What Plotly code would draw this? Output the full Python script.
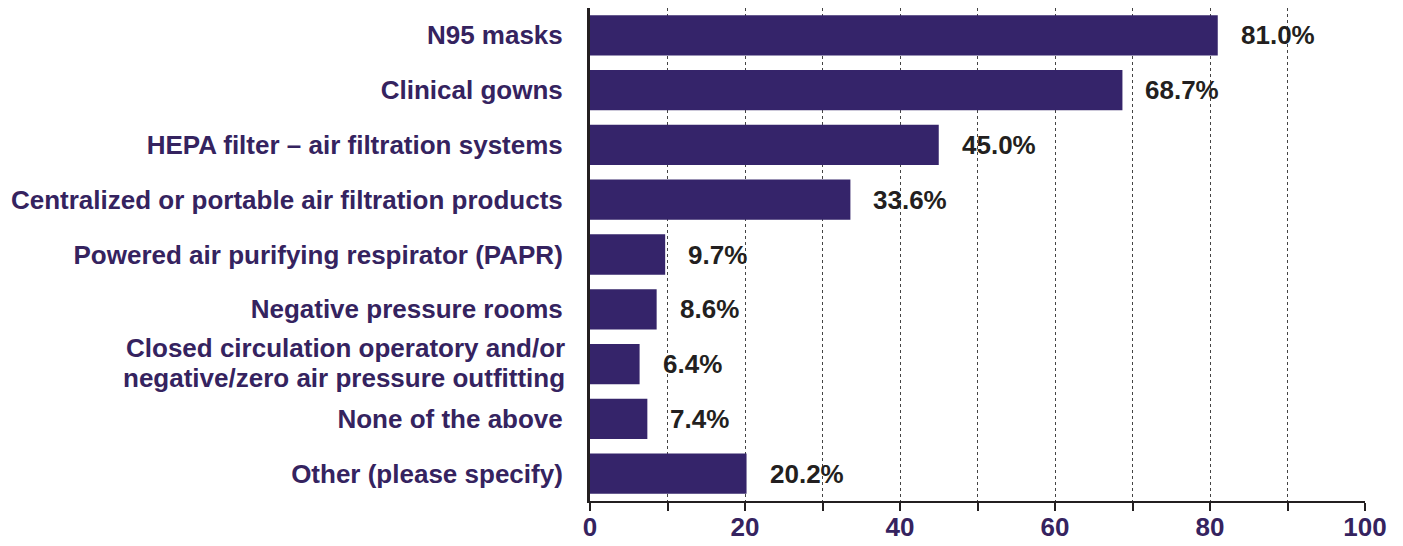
import plotly.graph_objects as go

categories = [
    "N95 masks",
    "Clinical gowns",
    "HEPA filter – air filtration systems",
    "Centralized or portable air filtration products",
    "Powered air purifying respirator (PAPR)",
    "Negative pressure rooms",
    "Closed circulation operatory and/or<br>negative/zero air pressure outfitting",
    "None of the above",
    "Other (please specify)",
]
values = [81.0, 68.7, 45.0, 33.6, 9.7, 8.6, 6.4, 7.4, 20.2]
value_labels = ["81.0%", "68.7%", "45.0%", "33.6%", "9.7%", "8.6%", "6.4%", "7.4%", "20.2%"]
x_tickvals = [0, 20, 40, 60, 80, 100]

PURPLE = "#35246a"
TEXT_PURPLE = "#35235f"
FONT = "Liberation Sans, Arial, Helvetica, sans-serif"

fig = go.Figure()
fig.add_trace(go.Bar(
    y=categories,
    x=values,
    orientation="h",
    marker=dict(color=PURPLE, line=dict(width=0)),
    hoverinfo="skip",
))

for c, v, t in zip(categories, values, value_labels):
    fig.add_annotation(
        x=v, y=c, text="<b>" + t + "</b>", showarrow=False,
        xanchor="left", xshift=21,
        font=dict(family=FONT, size=26, color="#231f20"),
    )

# category labels: single-line ones as tick labels, multi-line ones as
# tighter-spaced annotations
ticktext = []
for c in categories:
    if "<br>" in c:
        ticktext.append("")
        lines = c.split("<br>")
        n = len(lines)
        for i, line in enumerate(lines):
            fig.add_annotation(
                xref="paper", x=0, y=c, text="<b>" + line + "</b>",
                showarrow=False, xanchor="right", xshift=-24,
                yshift=(n - 1) / 2 * 30 - i * 30 + 1,
                borderpad=0,
                font=dict(family=FONT, size=26, color=TEXT_PURPLE),
            )
    else:
        ticktext.append("<b>" + c + "</b>")

fig.update_layout(
    width=1403, height=546,
    margin=dict(l=590, r=38, t=8, b=45),
    paper_bgcolor="white", plot_bgcolor="white",
    bargap=0.265,
    showlegend=False,
    font=dict(family=FONT),
)
fig.update_xaxes(
    range=[0, 100],
    automargin=False,
    tickvals=x_tickvals,
    ticktext=["<b>%d</b>" % v for v in x_tickvals],
    tickfont=dict(family=FONT, size=26, color=TEXT_PURPLE),
    ticks="outside", ticklen=8, tickwidth=2, tickcolor="#231f20",
    ticklabelstandoff=-6,
    showline=True, linecolor="#231f20", linewidth=2,
    showgrid=True, gridcolor="#444444", gridwidth=1, griddash="dot",
    minor=dict(dtick=10, tick0=0, ticks="outside", ticklen=8, tickwidth=2,
               tickcolor="#231f20", showgrid=True, gridcolor="#444444",
               gridwidth=1, griddash="dot"),
    zeroline=False,
    fixedrange=True,
)
fig.update_yaxes(
    autorange="reversed",
    automargin=False,
    tickmode="array",
    tickvals=categories,
    ticktext=ticktext,
    tickfont=dict(family=FONT, size=26, color=TEXT_PURPLE),
    ticks="", ticklabelstandoff=19,
    showline=True, linecolor="#231f20", linewidth=3,
    showgrid=False, zeroline=False,
    fixedrange=True,
)

fig.write_html(
    "out.html",
    config={"displayModeBar": False},
    post_script="document.body.style.margin='0';document.body.style.overflow='hidden';",
)
